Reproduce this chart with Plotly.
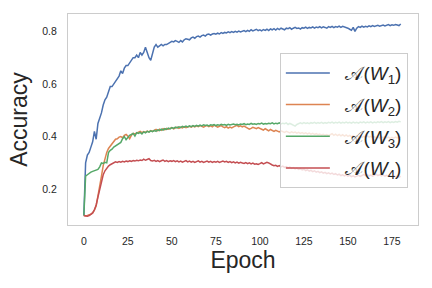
import plotly.graph_objects as go

epochs = list(range(181))

acc_w1 = [
    0.100, 0.300, 0.330, 0.340, 0.360, 0.380, 0.420, 0.390, 0.450, 0.470,
    0.490, 0.520, 0.540, 0.550, 0.570, 0.590, 0.590, 0.600, 0.610, 0.620,
    0.630, 0.650, 0.640, 0.660, 0.670, 0.670, 0.680, 0.690, 0.700, 0.700,
    0.710, 0.700, 0.720, 0.710, 0.720, 0.740, 0.720, 0.700, 0.690, 0.720,
    0.740, 0.750, 0.740, 0.745, 0.750, 0.745, 0.750, 0.750, 0.755, 0.760,
    0.762, 0.760, 0.765, 0.762, 0.758, 0.765, 0.760, 0.768, 0.772, 0.770,
    0.768, 0.775, 0.778, 0.774, 0.780, 0.782, 0.778, 0.784, 0.786, 0.782,
    0.788, 0.790, 0.786, 0.790, 0.792, 0.789, 0.793, 0.790, 0.795, 0.792,
    0.796, 0.794, 0.798, 0.795, 0.799, 0.796, 0.800, 0.797, 0.801, 0.798,
    0.800, 0.803, 0.799, 0.804, 0.800, 0.806, 0.802, 0.805, 0.808, 0.803,
    0.806, 0.802, 0.807, 0.804, 0.808, 0.803, 0.809, 0.806, 0.810, 0.805,
    0.811, 0.807, 0.812, 0.809, 0.806, 0.812, 0.810, 0.814, 0.808, 0.812,
    0.815, 0.811, 0.813, 0.809, 0.814, 0.812, 0.816, 0.811, 0.815, 0.813,
    0.817, 0.812, 0.816, 0.814, 0.818, 0.813, 0.817, 0.815, 0.812, 0.818,
    0.815, 0.819, 0.814, 0.818, 0.816, 0.820, 0.815, 0.819, 0.817, 0.814,
    0.812, 0.808, 0.804, 0.815, 0.800, 0.812, 0.818, 0.815, 0.820, 0.816,
    0.819, 0.817, 0.821, 0.818, 0.822, 0.819, 0.821, 0.823, 0.820, 0.822,
    0.824, 0.821, 0.823, 0.826, 0.822, 0.825, 0.823, 0.826, 0.824, 0.822,
    0.828,
]

acc_w2 = [
    0.100, 0.098, 0.100, 0.102, 0.105, 0.110, 0.120, 0.137, 0.170, 0.210,
    0.250, 0.290, 0.320, 0.340, 0.355, 0.365, 0.375, 0.385, 0.390, 0.392,
    0.398, 0.400, 0.396, 0.405, 0.408, 0.402, 0.392, 0.405, 0.412, 0.410,
    0.414, 0.418, 0.420, 0.415, 0.419, 0.416, 0.421, 0.418, 0.423, 0.420,
    0.425, 0.427, 0.422, 0.428, 0.424, 0.430, 0.426, 0.431, 0.428, 0.432,
    0.434, 0.429, 0.433, 0.436, 0.431, 0.435, 0.433, 0.438, 0.434, 0.437,
    0.439, 0.436, 0.440, 0.437, 0.441, 0.438, 0.442, 0.439, 0.436, 0.440,
    0.442, 0.438, 0.441, 0.437, 0.443, 0.440, 0.436, 0.439, 0.442, 0.437,
    0.434, 0.438, 0.432, 0.436, 0.433, 0.437, 0.440, 0.443, 0.438, 0.441,
    0.437, 0.440, 0.436, 0.432, 0.428, 0.431, 0.435, 0.433, 0.430, 0.434,
    0.432, 0.428, 0.425, 0.430, 0.426, 0.422, 0.427, 0.423, 0.420, 0.424,
    0.421, 0.418, 0.422, 0.419, 0.416, 0.420, 0.417, 0.414, 0.418, 0.415,
    0.417, 0.413, 0.416, 0.412, 0.415, 0.411, 0.414, 0.410, 0.413, 0.409,
    0.412, 0.408, 0.411, 0.407, 0.410, 0.406, 0.409, 0.405, 0.408, 0.404,
    0.407, 0.411, 0.405, 0.409, 0.404, 0.408, 0.403, 0.407, 0.402, 0.406,
    0.401, 0.405, 0.400, 0.404, 0.399, 0.403, 0.398, 0.402, 0.397, 0.401,
    0.399, 0.403, 0.398, 0.401, 0.396, 0.400, 0.395, 0.399, 0.394, 0.398,
    0.396, 0.400, 0.395, 0.398, 0.393, 0.397, 0.394, 0.398, 0.395, 0.399,
    0.396,
]

acc_w3 = [
    0.100, 0.250, 0.255, 0.262, 0.265, 0.268, 0.270, 0.272, 0.275, 0.285,
    0.300, 0.298, 0.302, 0.300, 0.339, 0.348, 0.352, 0.360, 0.364, 0.370,
    0.375, 0.378, 0.392, 0.400, 0.388, 0.398, 0.405, 0.408, 0.412, 0.402,
    0.415, 0.412, 0.416, 0.410, 0.418, 0.414, 0.420, 0.417, 0.422, 0.419,
    0.424, 0.420, 0.426, 0.423, 0.428, 0.425, 0.430, 0.427, 0.432, 0.429,
    0.434, 0.431, 0.436, 0.433, 0.437, 0.435, 0.439, 0.436, 0.440, 0.437,
    0.441, 0.438, 0.442, 0.439, 0.443, 0.440, 0.444, 0.441, 0.445, 0.442,
    0.444, 0.441, 0.445, 0.443, 0.446, 0.442, 0.445, 0.443, 0.447, 0.444,
    0.446, 0.443, 0.447, 0.444, 0.446, 0.448, 0.445, 0.447, 0.444, 0.448,
    0.446, 0.449, 0.445, 0.448, 0.446, 0.450, 0.447, 0.449, 0.446, 0.450,
    0.448, 0.451, 0.447, 0.450, 0.448, 0.451, 0.449, 0.452, 0.448, 0.451,
    0.449, 0.452, 0.448, 0.451, 0.449, 0.452, 0.446, 0.450, 0.447, 0.444,
    0.440, 0.446, 0.450, 0.452, 0.449, 0.453, 0.450, 0.452, 0.449, 0.453,
    0.451, 0.454, 0.450, 0.453, 0.451, 0.454, 0.450, 0.453, 0.451, 0.454,
    0.452, 0.455, 0.451, 0.454, 0.452, 0.455, 0.451, 0.454, 0.452, 0.455,
    0.452, 0.454, 0.451, 0.455, 0.452, 0.454, 0.451, 0.455, 0.453, 0.456,
    0.452, 0.455, 0.453, 0.456, 0.452, 0.455, 0.453, 0.456, 0.454, 0.457,
    0.453, 0.456, 0.454, 0.457, 0.453, 0.456, 0.454, 0.457, 0.455, 0.458,
    0.456,
]

acc_w4 = [
    0.100, 0.098, 0.097, 0.100, 0.104, 0.110, 0.122, 0.140, 0.170, 0.200,
    0.238, 0.255, 0.270, 0.280, 0.288, 0.293, 0.296, 0.300, 0.304, 0.302,
    0.305, 0.303, 0.306, 0.304, 0.307, 0.305, 0.308, 0.306, 0.309, 0.307,
    0.310, 0.308, 0.311, 0.309, 0.314, 0.310, 0.312, 0.316, 0.309, 0.307,
    0.310, 0.306, 0.309, 0.305, 0.308, 0.311, 0.306, 0.309, 0.305, 0.308,
    0.306, 0.309, 0.305, 0.308, 0.304, 0.307, 0.303, 0.306, 0.309, 0.304,
    0.307, 0.303, 0.306, 0.302, 0.305, 0.308, 0.303, 0.306, 0.302, 0.305,
    0.307, 0.303, 0.306, 0.302, 0.305, 0.303, 0.306, 0.302, 0.304, 0.307,
    0.304, 0.306, 0.302, 0.305, 0.301, 0.304, 0.300, 0.303, 0.299, 0.302,
    0.300, 0.298, 0.301, 0.297, 0.300, 0.296, 0.299, 0.295, 0.297, 0.294,
    0.297, 0.301, 0.296, 0.299, 0.302, 0.300, 0.295, 0.292, 0.289, 0.291,
    0.287, 0.290, 0.285, 0.288, 0.283, 0.286, 0.281, 0.284, 0.279, 0.282,
    0.277, 0.280, 0.275, 0.278, 0.273, 0.276, 0.271, 0.274, 0.269, 0.272,
    0.267, 0.270, 0.265, 0.268, 0.263, 0.266, 0.261, 0.264, 0.259, 0.262,
    0.258, 0.261, 0.256, 0.259, 0.254, 0.257, 0.252, 0.255, 0.251, 0.254,
    0.250, 0.253, 0.248, 0.251, 0.247, 0.250, 0.253, 0.249, 0.252, 0.256,
    0.252, 0.255, 0.251, 0.254, 0.250, 0.253, 0.257, 0.252, 0.255, 0.251,
    0.254, 0.250, 0.253, 0.249, 0.252, 0.248, 0.251, 0.247, 0.250, 0.246,
    0.249,
]

PAD = "\u00a0\u00a0"
series_names = [PAD + "𝒜(<i>W</i><sub>1</sub>)", PAD + "𝒜(<i>W</i><sub>2</sub>)",
                PAD + "𝒜(<i>W</i><sub>3</sub>)", PAD + "𝒜(<i>W</i><sub>4</sub>)"]
series_values = [acc_w1, acc_w2, acc_w3, acc_w4]
colors = ["#4C72B0", "#DD8452", "#55A868", "#C44E52"]

x_ticks = [0, 25, 50, 75, 100, 125, 150, 175]
y_ticks = [0.2, 0.4, 0.6, 0.8]

FONT = "Liberation Sans, Arial, DejaVu Sans, sans-serif"

fig = go.Figure()
for i, (name, vals, col) in enumerate(zip(series_names, series_values, colors)):
    fig.add_trace(go.Scatter(
        x=epochs, y=vals, mode="lines", name=name,
        line=dict(color=col, width=1.5),
        legendgroup=f"g{i}",
    ))

fig.update_layout(
    width=432, height=288,
    margin=dict(l=68, r=14, t=14, b=63),
    paper_bgcolor="white", plot_bgcolor="white",
    font=dict(family=FONT, color="#262626", size=10.5),
    showlegend=True,
    legend=dict(
        x=0.971, xanchor="right", y=0.815, yanchor="top",
        bgcolor="rgba(255,255,255,0.8)", bordercolor="#cccccc", borderwidth=1,
        font=dict(size=19, family=FONT, color="#262626"),
        tracegroupgap=4, itemwidth=44,
    ),
)
fig.update_xaxes(
    range=[-9, 189.8], tickvals=x_ticks, ticktext=[str(t) for t in x_ticks],
    showgrid=False, zeroline=False, showline=True, mirror=True, automargin=False,
    linecolor="#cccccc", linewidth=1, ticks="", ticklabelstandoff=6,
    title=dict(text="Epoch", font=dict(size=23, family=FONT, color="#262626"), standoff=4),
)
fig.update_yaxes(
    range=[0.064, 0.866], tickvals=y_ticks, ticktext=[str(t) for t in y_ticks],
    showgrid=False, zeroline=False, showline=True, mirror=True, automargin=False,
    linecolor="#cccccc", linewidth=1, ticks="", ticklabelstandoff=8,
    title=dict(text="Accuracy", font=dict(size=23, family=FONT, color="#262626"), standoff=8),
)

fig.write_html("out.html", config={"displayModeBar": False},
               post_script="document.body.style.margin='0';")
